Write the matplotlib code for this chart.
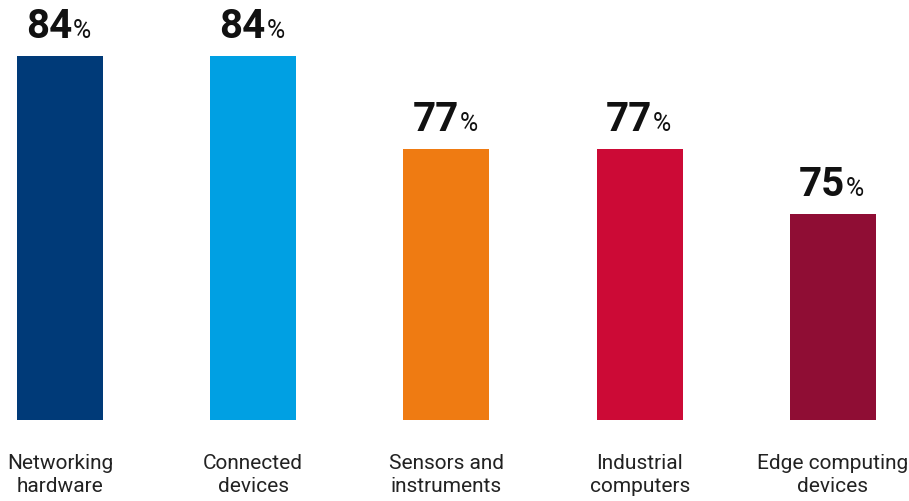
import matplotlib.pyplot as plt
from matplotlib.transforms import blended_transform_factory

categories = ["Networking\nhardware", "Connected\ndevices", "Sensors and\ninstruments",
              "Industrial\ncomputers", "Edge computing\ndevices"]
values = [84, 84, 77, 77, 75]
# bar tops as drawn in the source picture (its bar scale is not strictly linear)
bar_tops = [84, 84, 77, 77, 72.1]
colors = ["#003a78", "#00a0e3", "#ef7b12", "#cc0a36", "#8f0d34"]

base = 56.6

fig = plt.figure(figsize=(9.09, 5.01), dpi=100)
ax = fig.add_axes([0, 0, 1, 1])
ax.bar(range(len(values)), [t - base for t in bar_tops], bottom=base,
       width=0.445, color=colors)
ax.set_xlim(-0.3106, 4.394)
ax.set_ylim(50.5, 88.2)
ax.axis("off")

for i, (t, v) in enumerate(zip(bar_tops, values)):
    ax.annotate(str(v), xy=(i, t), xytext=(9, 13), textcoords="offset points",
                ha="right", va="baseline", fontsize=29, fontweight="bold",
                family="Roboto", color="#111111")
    ax.annotate("%", xy=(i, t), xytext=(9.5, 13), textcoords="offset points",
                ha="left", va="baseline", fontsize=18, family="Roboto",
                color="#111111")

trans = blended_transform_factory(ax.transData, fig.transFigure)
for i, c in enumerate(categories):
    ax.text(i, 1 - 475 / 501, c, transform=trans, ha="center", va="center",
            fontsize=15, family="Roboto", color="#222222", linespacing=1.3)

fig.savefig("out.png", dpi=100)
